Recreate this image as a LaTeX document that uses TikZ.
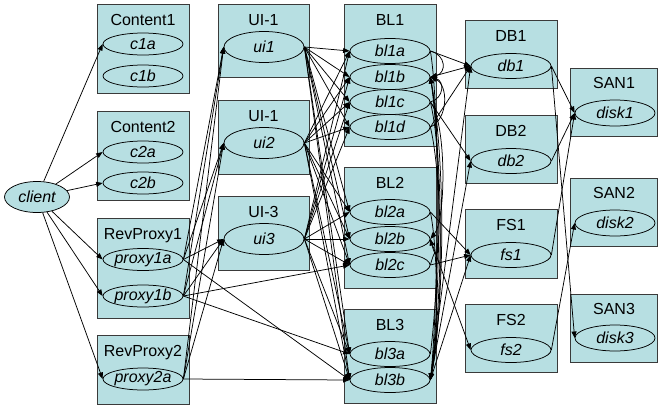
\documentclass[tikz,border=0pt]{standalone}
\usepackage{fontspec}
\setmainfont{Liberation Sans}
\usetikzlibrary{arrows.meta,shapes.geometric}
\definecolor{fillc}{HTML}{B7DFE2}
\definecolor{boxc}{HTML}{3A3A3A}
\begin{document}
\begin{tikzpicture}[x=1pt,y=-1pt,
  font=\fontsize{16}{18}\selectfont,
  cluster/.style={draw=boxc, fill=fillc, line width=0.8pt},
  ctitle/.style={anchor=base, inner sep=0pt},
  nd/.style={ellipse, draw=black, fill=fillc, line width=0.75pt, minimum width=80pt, minimum height=25pt, inner xsep=-8pt, inner ysep=-4pt, font=\fontsize{16}{18}\selectfont\itshape},
  uind/.style={nd, minimum height=31pt},
  arr/.style={-{Triangle[length=6.5pt,width=5pt]}, line width=0.75pt},
]
\useasboundingbox (0,0) rectangle (658,408);
% clusters
\draw[cluster] (97,4) rectangle (189,93);     \node[ctitle] (tc1) at (143,25) {Content1};
\draw[cluster] (97,111) rectangle (189,200);  \node[ctitle] (tc2) at (143,132) {Content2};
\draw[cluster] (97,218) rectangle (189,318);  \node[ctitle] (trp1) at (143,239) {RevProxy1};
\draw[cluster] (97,335) rectangle (189,404);  \node[ctitle] (trp2) at (143,356) {RevProxy2};
\draw[cluster] (218,4) rectangle (309,77);    \node[ctitle] (tui1) at (263.5,25) {UI-1};
\draw[cluster] (218,100) rectangle (309,174); \node[ctitle] (tui2) at (263.5,121) {UI-1};
\draw[cluster] (218,196) rectangle (309,270); \node[ctitle] (tui3) at (263.5,217) {UI-3};
\draw[cluster] (344,4) rectangle (436,146);   \node[ctitle] (tbl1) at (390,25) {BL1};
\draw[cluster] (344,167) rectangle (436,288); \node[ctitle] (tbl2) at (390,188) {BL2};
\draw[cluster] (344,309) rectangle (436,403); \node[ctitle] (tbl3) at (390,330) {BL3};
\draw[cluster] (465,20) rectangle (557,88);   \node[ctitle] (tdb1) at (511,41) {DB1};
\draw[cluster] (465,115) rectangle (557,183); \node[ctitle] (tdb2) at (511,136) {DB2};
\draw[cluster] (465,209) rectangle (557,278); \node[ctitle] (tfs1) at (511,230) {FS1};
\draw[cluster] (465,304) rectangle (557,372); \node[ctitle] (tfs2) at (511,325) {FS2};
\draw[cluster] (570,68) rectangle (657.6,136); \node[ctitle] (tsan1) at (614,88) {SAN1};
\draw[cluster] (570,178) rectangle (657.6,246);\node[ctitle] (tsan2) at (614,198) {SAN2};
\draw[cluster] (570,294) rectangle (657.6,362);\node[ctitle] (tsan3) at (614,314) {SAN3};
% nodes
\node[nd, minimum width=65pt, minimum height=31pt] (client) at (37,197) {client};
\node[nd, minimum height=22pt] (c1a) at (143,44) {c1a};
\node[nd, minimum height=22pt] (c1b) at (143,76) {c1b};
\node[nd, minimum height=22pt] (c2a) at (143,152) {c2a};
\node[nd, minimum height=22pt] (c2b) at (143,183) {c2b};
\node[nd, minimum height=22pt] (proxy1a) at (143,259.5) {proxy1a};
\node[nd, minimum height=22pt] (proxy1b) at (143,296) {proxy1b};
\node[nd, minimum height=22pt] (proxy2a) at (143,379) {proxy2a};
\node[uind] (ui1) at (264,47) {ui1};
\node[uind] (ui2) at (264,143) {ui2};
\node[uind] (ui3) at (264,239) {ui3};
\node[nd] (bl1a) at (390,51) {bl1a};
\node[nd] (bl1b) at (390,77) {bl1b};
\node[nd] (bl1c) at (390,102) {bl1c};
\node[nd] (bl1d) at (390,127) {bl1d};
\node[nd] (bl2a) at (390,212) {bl2a};
\node[nd] (bl2b) at (390,239) {bl2b};
\node[nd] (bl2c) at (390,265) {bl2c};
\node[nd] (bl3a) at (390,354) {bl3a};
\node[nd] (bl3b) at (390,380) {bl3b};
\node[nd] (db1) at (511,66) {db1};
\node[nd] (db2) at (511,161) {db2};
\node[nd] (fs1) at (511,255) {fs1};
\node[nd] (fs2) at (511,350) {fs2};
\node[nd, minimum height=26pt] (disk1) at (615,113) {disk1};
\node[nd, minimum height=26pt] (disk2) at (615,223) {disk2};
\node[nd, minimum height=26pt] (disk3) at (615,338) {disk3};
% edges: client
\foreach \t in {c1a,c2a,c2b,proxy1a,proxy1b,proxy2a}
  \draw[arr] (client) -- (\t.west);
% proxies -> ui
\foreach \s in {proxy1a,proxy1b,proxy2a}
  \foreach \t in {ui1,ui2,ui3}
    \draw[arr] (\s.east) -- (\t.west);
% proxies -> bl
\draw[arr] (proxy1a.east) -- (bl3b.west);
\draw[arr] (proxy1b.east) -- (bl2c.west);
\draw[arr] (proxy1b.east) -- (bl3a.west);
\draw[arr] (proxy2a.east) -- (bl3b.west);
% ui -> bl
\foreach \s in {ui1,ui2,ui3}
  \foreach \t in {bl1a,bl1b,bl1c,bl1d,bl2a,bl2b,bl2c,bl3a,bl3b}
    \draw[arr] (\s.east) -- (\t.west);
% bl internal
\draw[arr] (bl1a.east) .. controls +(16,4) and +(16,-4) .. (bl1b.east);
\draw[arr] (bl1c.east) .. controls +(14,-4) and +(14,4) .. (bl1b.east);
\draw[arr] (bl1d.east) .. controls +(18,-8) and +(18,8) .. (bl1b.east);
\draw[arr] (bl1c.east) .. controls +(16,20) and +(16,-20) .. (bl2b.east);
\draw[arr] (bl1a.east) .. controls +(10,60) and +(8,-80) .. (bl3b.east);
\draw[arr] (bl1b.east) .. controls +(12,60) and +(10,-80) .. (bl3b.east);
\draw[arr] (bl1c.east) .. controls +(14,60) and +(12,-80) .. (bl3b.east);
\draw[arr] (bl1d.east) .. controls +(12,50) and +(14,-70) .. (bl3b.east);
\draw[arr] (bl2a.east) .. controls +(8,40) and +(8,-40) .. (bl3b.east);
\draw[arr] (bl3a.east) .. controls +(10,-80) and +(10,70) .. (bl1b.east);
\draw[arr] (bl3b.east) .. controls +(16,-90) and +(14,80) .. (bl1b.east);
\draw[arr] (bl2c.east) .. controls +(8,-30) and +(8,30) .. (bl2b.east);
% bl -> db/fs
\draw[arr] (bl1a.east) -- (db1.west);
\draw[arr] (bl1b.east) -- (db1.west);
\draw[arr] (bl1d.east) -- (db1.west);
\draw[arr] (bl3b.east) -- (db1.west);
\draw[arr] (bl1c.east) -- (db2.west);
\draw[arr] (bl3b.east) -- (db2.west);
\draw[arr] (bl2a.east) -- (fs1.west);
\draw[arr] (bl2c.east) -- (fs1.west);
\draw[arr] (bl3b.east) -- (fs1.west);
\draw[arr] (bl2b.east) -- (fs2.west);
% db/fs -> san
\draw[arr] (db1.east) -- (disk1.west);
\draw[arr] (db1.east) -- (disk3.west);
\draw[arr] (db2.east) -- (disk1.west);
\draw[arr] (fs1.east) -- (disk1.west);
\draw[arr] (fs2.east) -- (disk2.west);
\end{tikzpicture}
\end{document}
